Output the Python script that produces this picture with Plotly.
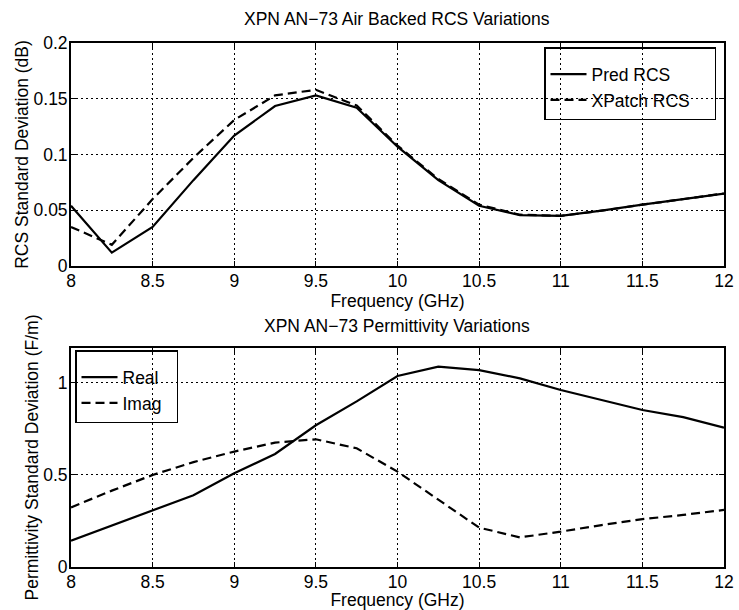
import plotly.graph_objects as go

freq = [8.0, 8.25, 8.5, 8.75, 9.0, 9.25, 9.5, 9.75, 10.0, 10.25, 10.5, 10.75, 11.0, 11.25, 11.5, 11.75, 12.0]
pred_rcs = [0.054, 0.012, 0.035, 0.077, 0.117, 0.1435, 0.153, 0.142, 0.107, 0.077, 0.054, 0.0457, 0.045, 0.0496, 0.055, 0.060, 0.065]
xpatch_rcs = [0.035, 0.019, 0.060, 0.097, 0.131, 0.153, 0.158, 0.144, 0.108, 0.078, 0.055, 0.046, 0.045, 0.0496, 0.055, 0.060, 0.065]
perm_real = [0.143, 0.225, 0.306, 0.39, 0.509, 0.614, 0.77, 0.90, 1.038, 1.089, 1.07, 1.025, 0.962, 0.908, 0.853, 0.814, 0.757]
perm_imag = [0.324, 0.415, 0.50, 0.57, 0.627, 0.676, 0.694, 0.645, 0.518, 0.364, 0.214, 0.161, 0.192, 0.228, 0.26, 0.283, 0.31]

x_ticks = [8, 8.5, 9, 9.5, 10, 10.5, 11, 11.5, 12]
x_ticklabels = ["8", "8.5", "9", "9.5", "10", "10.5", "11", "11.5", "12"]
y_ticks_top = [0, 0.05, 0.1, 0.15, 0.2]
y_ticklabels_top = ["0", "0.05", "0.1", "0.15", "0.2"]
y_ticks_bot = [0, 0.5, 1]
y_ticklabels_bot = ["0", "0.5", "1"]

series_names_top = ["Pred RCS", "XPatch RCS"]
series_names_bot = ["Real", "Imag"]

title_top = "XPN AN\u221273 Air Backed RCS Variations"
title_bot = "XPN AN\u221273 Permittivity Variations"
xlabel = "Frequency (GHz)"
ylabel_top = "RCS Standard Deviation (dB)"
ylabel_bot = "Permittivity Standard Deviation (F/m)"

W, H = 739, 610
FONT = "Liberation Sans, Arial, Helvetica, sans-serif"
FS = 17.5
NB = "\u00a0"

fig = go.Figure()
fig.add_trace(go.Scatter(x=freq, y=pred_rcs, mode="lines", name=series_names_top[0],
                         line=dict(color="black", width=2.2), xaxis="x", yaxis="y", legend="legend"))
fig.add_trace(go.Scatter(x=freq, y=xpatch_rcs, mode="lines", name=series_names_top[1] + NB * 4,
                         line=dict(color="black", width=2.2, dash="9px,5px"), xaxis="x", yaxis="y", legend="legend"))
fig.add_trace(go.Scatter(x=freq, y=perm_real, mode="lines", name=series_names_bot[0],
                         line=dict(color="black", width=2.2), xaxis="x2", yaxis="y2", legend="legend2"))
fig.add_trace(go.Scatter(x=freq, y=perm_imag, mode="lines", name=series_names_bot[1] + NB * 2,
                         line=dict(color="black", width=2.2, dash="9px,5px"), xaxis="x2", yaxis="y2", legend="legend2"))

xdom = [71 / W, 724 / W]
axis_common = dict(showline=True, mirror="ticks", linecolor="black", linewidth=1.8,
                   ticks="inside", ticklen=5, tickcolor="black", tickwidth=1,
                   showgrid=True, gridcolor="black", gridwidth=1, griddash="2px,3px",
                   zeroline=False, automargin=False,
                   tickfont=dict(size=FS, color="black", family=FONT))
xaxis_common = dict(range=[8, 12], tickvals=x_ticks, ticktext=x_ticklabels,
                    ticklabelstandoff=-2,
                    title=dict(text=xlabel, standoff=0, font=dict(size=FS)), **axis_common)
legend_common = dict(bgcolor="rgba(0,0,0,0)", bordercolor="black", borderwidth=1.5,
                     font=dict(size=FS, family=FONT, color="black"), tracegroupgap=0,
                     itemwidth=36,
                     title=dict(text=NB, font=dict(size=6)))

fig.update_layout(
    width=W, height=H,
    margin=dict(l=0, r=0, t=0, b=0),
    paper_bgcolor="white", plot_bgcolor="white",
    font=dict(family=FONT, size=FS, color="black"),
    xaxis=dict(domain=xdom, anchor="y", **xaxis_common),
    yaxis=dict(domain=[1 - 266 / H, 1 - 43 / H], range=[0, 0.2],
               tickvals=y_ticks_top, ticktext=y_ticklabels_top, ticklabelstandoff=-2,
               anchor="x", title=dict(text=ylabel_top, standoff=0, font=dict(size=FS)), **axis_common),
    xaxis2=dict(domain=xdom, anchor="y2", **xaxis_common),
    yaxis2=dict(domain=[1 - 567 / H, 1 - 348 / H], range=[0, 1.19],
                tickvals=y_ticks_bot, ticktext=y_ticklabels_bot, ticklabelstandoff=-2,
                anchor="x2", title=dict(text=ylabel_bot, standoff=0, font=dict(size=FS)), **axis_common),
    legend=dict(x=544 / W, y=1 - 47 / H, xanchor="left", yanchor="top", **legend_common),
    legend2=dict(x=75 / W, y=1 - 350 / H, xanchor="left", yanchor="top", **legend_common),
    annotations=[
        dict(text=title_top, x=397 / W, y=1 - 19 / H, xref="paper", yref="paper",
             showarrow=False, xanchor="center", yanchor="middle", font=dict(size=FS)),
        dict(text=title_bot, x=397 / W, y=1 - 326 / H, xref="paper", yref="paper",
             showarrow=False, xanchor="center", yanchor="middle", font=dict(size=FS)),
    ],
)

fig.write_html("out.html", config={"displayModeBar": False},
               post_script="document.body.style.margin='0px';")
